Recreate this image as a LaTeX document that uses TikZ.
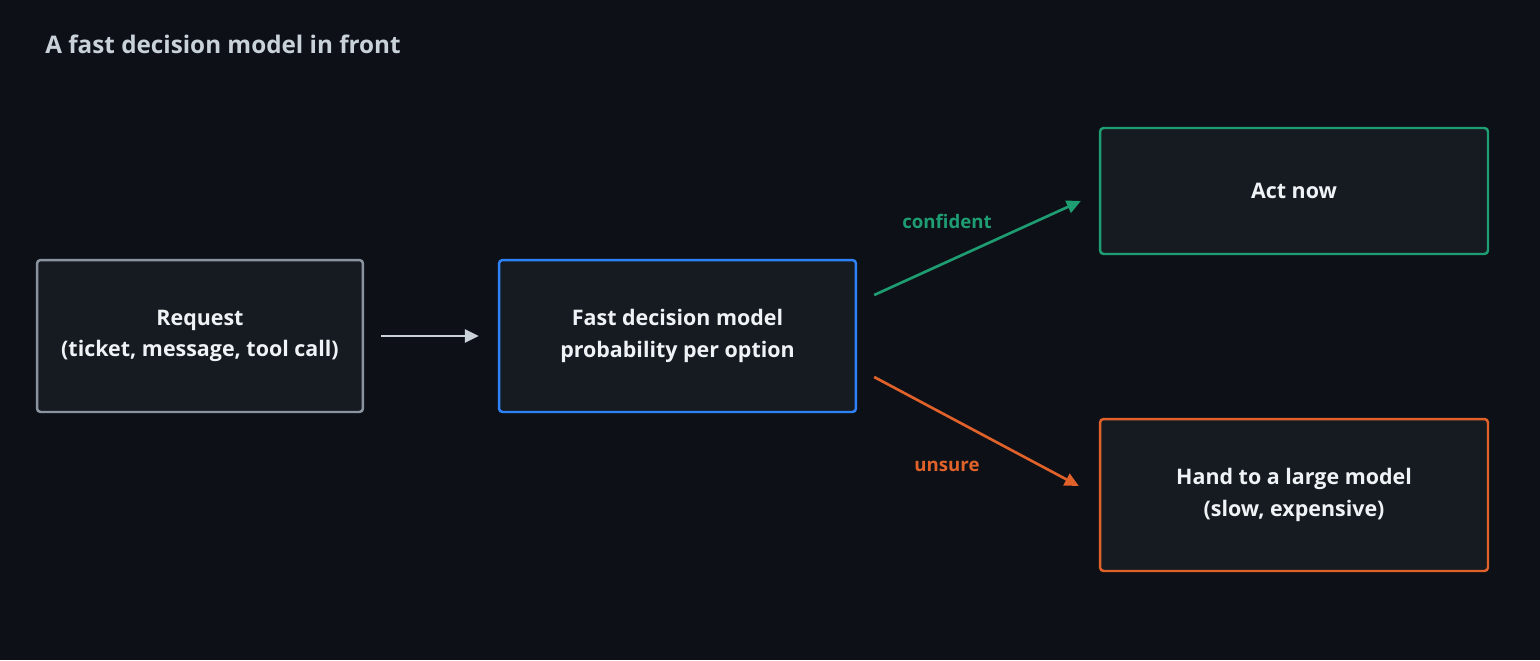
\documentclass[tikz,border=0pt]{standalone}
\usepackage{fontspec}
\setmainfont{Open Sans}
\usetikzlibrary{arrows.meta,positioning}
\definecolor{bgcol}{HTML}{0D1117}
\definecolor{boxfill}{HTML}{161B22}
\definecolor{graycol}{HTML}{8B949E}
\definecolor{bluecol}{HTML}{2F81F7}
\definecolor{greencol}{HTML}{1F9D72}
\definecolor{orangecol}{HTML}{E0622A}
\definecolor{textcol}{HTML}{F0F3F6}
\definecolor{titlecol}{HTML}{C9D1D9}
\definecolor{arrowcol}{HTML}{C9D1D9}
\begin{document}
\begin{tikzpicture}[x=0.02cm,y=-0.02cm,
  box/.style={draw=#1,fill=boxfill,line width=1.4pt,rounded corners=2pt,
    text=textcol,align=center,font=\fontsize{12.2}{18}\selectfont\bfseries,
    inner sep=0pt},
  link/.style={draw=#1,line width=1.5pt,-{Triangle[length=0.28cm,width=0.26cm]}},
  tag/.style={text=#1,font=\fontsize{10.6}{12}\selectfont\bfseries}]
\fill[bgcol] (0,0) rectangle (1540,660);
\useasboundingbox (0,0) rectangle (1540,660);
\node[anchor=west,inner sep=0pt,text=titlecol,font=\fontsize{13.8}{16}\selectfont\bfseries] (title) at (45,44) {A fast decision model in front};
% boxes
\node[box=graycol,minimum width=6.52cm,minimum height=3.04cm] (request) at (200,336) {Request\\(ticket, message, tool call)};
\node[box=bluecol,minimum width=7.14cm,minimum height=3.04cm] (fast) at (677.5,336) {Fast decision model\\probability per option};
\node[box=greencol,minimum width=7.76cm,minimum height=2.52cm] (act) at (1294,191) {Act now};
\node[box=orangecol,minimum width=7.76cm,minimum height=3.04cm] (hand) at (1294,495) {Hand to a large model\\(slow, expensive)};
% arrow ends
\coordinate (c1) at ([shift={(17,-41)}]fast.east);
\coordinate (c2) at ([shift={(-18,10)}]act.west);
\coordinate (u1) at ([shift={(17,41)}]fast.east);
\coordinate (u2) at ([shift={(-20,-9)}]hand.west);
\draw[link=arrowcol,shorten <=0.34cm,shorten >=0.38cm] (request) -- (fast);
\draw[link=greencol] (c1) -- (c2);
\draw[link=orangecol] (u1) -- (u2);
\node[tag=greencol] (conf) at (947,221) {confident};
\node[tag=orangecol] (uns) at (947,466) {unsure};
\end{tikzpicture}
\end{document}
